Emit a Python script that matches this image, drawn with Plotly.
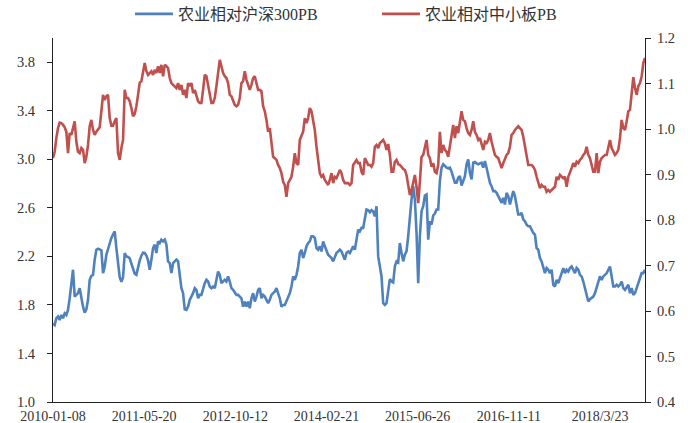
import numpy as np
import plotly.graph_objects as go

# Tick labels of the category (weekly) axis
tick_labels = ["2010-01-08", "2011-05-20", "2012-10-12", "2014-02-21",
               "2015-06-26", "2016-11-11", "2018/3/23"]
tick_index = [0, 71, 142, 213, 284, 355, 426]
n_weeks = 462

# 农业相对沪深300PB (left axis)
blue_vals = [
    1.648, 1.635, 1.690, 1.704, 1.676, 1.717, 1.690, 1.731, 1.717, 1.759,
    1.855, 1.966, 2.090, 1.869, 1.883, 1.897, 1.938, 1.842, 1.786, 1.737,
    1.764, 1.842, 2.007, 2.040, 2.048, 2.173, 2.255, 2.264, 2.255, 2.250,
    2.062, 2.117, 2.214, 2.261, 2.324, 2.352, 2.379, 2.407, 2.269, 2.117,
    2.029, 1.990, 2.029, 2.228, 2.200, 2.195, 2.184, 2.140, 2.090, 2.057,
    2.048, 2.117, 2.167, 2.206, 2.230, 2.228, 2.206, 2.167,
    2.090, 2.173, 2.269, 2.297, 2.228, 2.324, 2.310, 2.338, 2.324, 2.338,
    2.297, 2.159, 2.145, 2.062, 2.145, 2.159, 2.173, 2.159, 2.062, 1.938,
    1.897, 1.764, 1.759, 1.786, 1.842, 1.869, 1.897, 1.938, 1.924, 1.855,
    1.883, 1.883, 1.938, 1.979, 2.007, 1.993, 1.952, 1.938, 1.952, 1.938,
    2.007, 2.076, 2.048, 1.979, 1.993, 2.007, 1.993, 2.035, 1.993, 1.938,
    1.924, 1.897, 1.883, 1.883, 1.869, 1.855, 1.786, 1.828, 1.786, 1.828,
    1.773, 1.855, 1.897,
    1.828, 1.869, 1.924, 1.938, 1.855, 1.883, 1.869, 1.842, 1.814, 1.842,
    1.883, 1.897, 1.910, 1.938, 1.897, 1.855, 1.786, 1.800, 1.800, 1.828,
    1.869, 1.897, 1.952, 2.035, 2.007, 2.048, 2.117, 2.228, 2.255, 2.186,
    2.228, 2.283, 2.310, 2.324, 2.366, 2.366, 2.352, 2.269, 2.255, 2.283,
    2.241, 2.324, 2.283, 2.241, 2.214, 2.200, 2.186, 2.159, 2.200, 2.228,
    2.241, 2.255, 2.241, 2.200, 2.173, 2.228, 2.241, 2.228, 2.255, 2.283,
    2.255, 2.338, 2.421,
    2.407, 2.435, 2.435, 2.531, 2.586, 2.581, 2.564, 2.581, 2.570, 2.531,
    2.614, 2.200, 2.131, 2.035, 1.814, 1.800, 1.814, 1.924, 2.013, 1.993,
    1.985, 2.117, 2.159, 2.150, 2.310, 2.228, 2.159, 2.214, 2.241, 2.366,
    2.531, 2.669, 2.779, 2.669, 2.393, 1.979, 2.366, 2.573, 2.614, 2.702,
    2.710, 2.338, 2.490, 2.462, 2.537, 2.553, 2.586, 2.586, 2.821, 2.931,
    2.959, 2.940, 2.931, 2.926, 2.931, 2.898, 2.848, 2.807, 2.807, 2.848,
    2.862, 2.785, 2.821,
    2.862, 2.959, 3.000, 2.890, 2.835, 2.972, 2.978, 2.967, 2.959, 2.967,
    2.972, 2.931, 2.986, 2.931, 2.862, 2.807, 2.779, 2.738, 2.738, 2.724,
    2.697, 2.669, 2.641, 2.683, 2.628, 2.724, 2.697, 2.628, 2.697, 2.738,
    2.697, 2.628, 2.545, 2.545, 2.559, 2.504, 2.490, 2.462, 2.449, 2.449,
    2.421, 2.393, 2.379, 2.269, 2.255, 2.186, 2.159, 2.117, 2.062, 2.104,
    2.090, 2.062, 2.090, 1.966, 1.952, 2.007, 1.979, 2.021, 2.062, 2.104,
    2.062, 2.090, 2.076,
    2.104, 2.117, 2.090, 2.062, 2.104, 2.090, 2.048, 2.035, 1.993, 1.938,
    1.897, 1.828, 1.847, 1.855, 1.869, 1.897, 1.938, 1.979, 2.035, 2.007,
    2.035, 2.048, 2.062, 2.090, 2.117, 2.035, 1.952, 1.952, 1.966, 1.952,
    1.966, 1.993, 1.938, 1.924, 1.952, 1.966, 1.897, 1.938, 1.883, 1.897,
    1.938, 1.979, 2.021, 2.062, 2.062, 2.090,
]

# 农业相对中小板PB (right axis)
red_vals = [
    0.936, 0.950, 0.980, 1.002, 1.014, 1.013, 1.009, 1.004, 0.994, 0.947,
    0.991, 0.987, 1.002, 1.017, 0.972, 0.950, 0.947, 0.958, 0.954, 0.925,
    0.939, 0.965, 1.006, 1.020, 0.998, 0.987, 0.994, 1.000, 1.004, 1.039,
    1.075, 1.064, 1.072, 1.075, 1.024, 1.007, 1.007, 1.017, 1.024, 0.947,
    0.932, 0.958, 0.976, 1.086, 1.068, 1.068, 1.061, 1.046, 1.028, 1.033,
    1.050, 1.075, 1.102, 1.105, 1.123, 1.145, 1.127, 1.119,
    1.123, 1.127, 1.119, 1.130, 1.123, 1.138, 1.123, 1.141, 1.116, 1.141,
    1.138, 1.134, 1.112, 1.101, 1.097, 1.094, 1.090, 1.101, 1.086, 1.097,
    1.075, 1.086, 1.068, 1.101, 1.094, 1.101, 1.079, 1.086, 1.075, 1.061,
    1.057, 1.057, 1.086, 1.119, 1.116, 1.094, 1.072, 1.057, 1.057, 1.068,
    1.094, 1.123, 1.152, 1.138, 1.123, 1.116, 1.112, 1.101, 1.075, 1.072,
    1.064, 1.053, 1.050, 1.053, 1.068, 1.101, 1.105, 1.127, 1.108, 1.094,
    1.086, 1.097, 1.112,
    1.116, 1.101, 1.086, 1.086, 1.083, 1.050, 1.039, 1.020, 0.994, 1.002,
    0.976, 0.939, 0.936, 0.932, 0.921, 0.914, 0.903, 0.884, 0.877, 0.851,
    0.881, 0.888, 0.895, 0.917, 0.947, 0.925, 0.921, 0.976, 0.987, 0.994,
    1.024, 1.013, 1.024, 1.046, 1.039, 1.020, 0.998, 0.961, 0.932, 0.903,
    0.895, 0.899, 0.888, 0.881, 0.877, 0.888, 0.903, 0.881, 0.895, 0.892,
    0.903, 0.910, 0.903, 0.888, 0.881, 0.881, 0.881, 0.877, 0.881, 0.921,
    0.928, 0.932, 0.925,
    0.925, 0.906, 0.899, 0.936, 0.928, 0.921, 0.921, 0.917, 0.925, 0.961,
    0.965, 0.958, 0.969, 0.972, 0.976, 0.969, 0.954, 0.967, 0.943, 0.906,
    0.906, 0.928, 0.932, 0.923, 0.921, 0.917, 0.912, 0.910, 0.899, 0.877,
    0.855, 0.866, 0.887, 0.899, 0.873, 0.837, 0.884, 0.939, 0.943, 0.958,
    0.976, 0.943, 0.936, 0.917, 0.925, 0.906, 0.903, 0.921, 0.994, 0.947,
    0.965, 0.954, 0.950, 0.939, 0.961, 0.983, 1.009, 0.980, 1.006, 0.991,
    1.017, 1.039, 1.020,
    1.017, 1.002, 0.991, 0.987, 0.998, 1.017, 0.994, 0.987, 0.976, 0.980,
    0.969, 0.954, 0.972, 0.969, 0.976, 0.991, 0.972, 0.954, 0.943, 0.939,
    0.936, 0.925, 0.914, 0.925, 0.936, 0.943, 0.947, 0.961, 0.987, 0.991,
    0.998, 1.002, 1.006, 1.002, 0.998, 0.983, 0.961, 0.939, 0.921, 0.921,
    0.921, 0.917, 0.910, 0.895, 0.881, 0.870, 0.877, 0.873, 0.873, 0.862,
    0.866, 0.862, 0.866, 0.870, 0.873, 0.895, 0.888, 0.899, 0.895, 0.892,
    0.895, 0.873, 0.895,
    0.903, 0.914, 0.925, 0.917, 0.928, 0.925, 0.932, 0.936, 0.943, 0.947,
    0.961, 0.943, 0.936, 0.917, 0.906, 0.906, 0.947, 0.903, 0.928, 0.936,
    0.939, 0.943, 0.943, 0.958, 0.976, 0.958, 0.950, 0.943, 0.947, 0.954,
    0.980, 1.020, 1.002, 0.998, 1.017, 1.039, 1.042, 1.075, 1.114, 1.090,
    1.075, 1.094, 1.101, 1.116, 1.145, 1.156,
]

x_blue = np.linspace(0, n_weeks - 1, len(blue_vals))
x_red = np.linspace(0, n_weeks - 1, len(red_vals))

BLUE = "#4F81BD"
RED = "#C0504D"
FONT = "Liberation Serif, Times New Roman, Noto Sans CJK SC, serif"
TXT = "#333333"

fig = go.Figure()
fig.add_trace(go.Scatter(x=x_blue, y=blue_vals, mode="lines", name="农业相对沪深300PB",
                         line=dict(color=BLUE, width=2.6), yaxis="y"))
fig.add_trace(go.Scatter(x=x_red, y=red_vals, mode="lines", name="农业相对中小板PB",
                         line=dict(color=RED, width=2.6), yaxis="y2"))

fig.update_layout(
    width=697, height=423,
    margin=dict(l=53, r=52, t=38, b=21, autoexpand=False),
    paper_bgcolor="white", plot_bgcolor="white",
    font=dict(family=FONT, size=14, color=TXT),
    showlegend=True,
    legend=dict(orientation="h", xref="container", yref="container",
                x=130 / 697, xanchor="left", y=1 - 14 / 423, yanchor="middle",
                font=dict(family=FONT, size=16, color=TXT),
                bgcolor="rgba(0,0,0,0)", itemwidth=38, traceorder="normal",
                entrywidth=194, entrywidthmode="pixels"),
    xaxis=dict(range=[0, n_weeks - 1], tickmode="array", tickvals=tick_index,
               ticktext=tick_labels, showgrid=False, zeroline=False,
               showline=True, linecolor="#222", linewidth=1, ticks="",
               ticklabelstandoff=1,
               tickfont=dict(family=FONT, size=14, color=TXT), automargin=False),
    yaxis=dict(range=[1.0, 4.0], tick0=1.0, dtick=0.4, tickformat=".1f",
               showgrid=False, zeroline=False, showline=True, linecolor="#222",
               linewidth=1, ticks="outside", ticklen=5, tickcolor="#222",
               ticklabelstandoff=9,
               tickfont=dict(family=FONT, size=14.5, color=TXT), automargin=False),
    yaxis2=dict(range=[0.4, 1.2], tick0=0.4, dtick=0.1, tickformat=".1f",
                overlaying="y", side="right", showgrid=False, zeroline=False,
                showline=True, linecolor="#222", linewidth=1, ticks="outside",
                ticklen=5, tickcolor="#222", ticklabelstandoff=3,
                tickfont=dict(family=FONT, size=14.5, color=TXT), automargin=False),
)

fig.write_html("out.html", config={"displayModeBar": False},
               post_script="document.body.style.margin='0';document.body.style.overflow='hidden';")
